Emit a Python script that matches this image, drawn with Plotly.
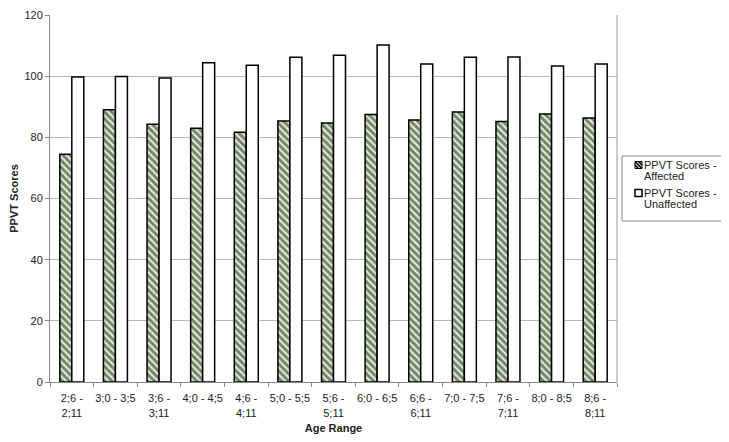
import plotly.graph_objects as go

age_ranges = ["2;6 -<br>2;11", "3;0 - 3;5", "3;6 -<br>3;11", "4;0 - 4;5", "4;6 -<br>4;11",
              "5;0 - 5;5", "5;6 -<br>5;11", "6;0 - 6;5", "6;6 -<br>6;11", "7;0 - 7;5",
              "7;6 -<br>7;11", "8;0 - 8;5", "8;6 -<br>8;11"]
affected = [74.5, 89.0, 84.3, 83.0, 81.7, 85.3, 84.7, 87.5, 85.7, 88.3, 85.2, 87.6, 86.3]
unaffected = [99.7, 99.9, 99.4, 104.4, 103.6, 106.2, 106.8, 110.2, 104.0, 106.2, 106.3, 103.3, 104.0]
legend_lines = [["PPVT Scores -", "Affected"], ["PPVT Scores -", "Unaffected"]]

green = "#e4f2d6"

fig = go.Figure()
fig.add_trace(go.Bar(
    x=age_ranges, y=affected, name="PPVT Scores - Affected",
    marker=dict(color=green, line=dict(color="black", width=1.5),
                pattern=dict(shape="\\", fgcolor="#0a160a", bgcolor=green, size=5, solidity=0.6)),
))
fig.add_trace(go.Bar(
    x=age_ranges, y=unaffected, name="PPVT Scores - Unaffected",
    marker=dict(color="white", line=dict(color="black", width=1.5)),
))

# the page body has an 8px margin, so the figure is 16px smaller than the window
PAD = 8
FW, FH = 729 - 2 * PAD, 442 - 2 * PAD
# top kept a few px lower than the original so the "120" label is not clipped
L, T, W, H = 42, 7, 567, 367

# helpers: window pixel -> paper coords
def px(x):
    return (x - PAD - L) / W
def py(y):
    return (PAD + T + H - y) / H

# hand-made legend (plotly's own one is too wide for the right margin)
fig.add_shape(type="rect", xref="paper", yref="paper",
              x0=px(622), x1=px(726), y0=py(156), y1=py(221),
              line=dict(color="#888", width=1), fillcolor="white")
fig.add_shape(type="rect", xref="paper", yref="paper",
              x0=px(635), x1=px(642), y0=py(161.5), y1=py(168.5),
              line=dict(color="black", width=1), fillcolor=green)
fig.add_shape(type="path", xref="paper", yref="paper",
              path=("M %f,%f L %f,%f M %f,%f L %f,%f M %f,%f L %f,%f" % (
                  px(635), py(161.5), px(642), py(168.5),
                  px(635), py(165), px(638.5), py(168.5),
                  px(638.5), py(161.5), px(642), py(165))),
              line=dict(color="black", width=1.5))
fig.add_shape(type="rect", xref="paper", yref="paper",
              x0=px(635), x1=px(642), y0=py(189.5), y1=py(196.5),
              line=dict(color="black", width=1.5), fillcolor="white")
for lines, ys in zip(legend_lines, [[165, 176], [193, 204]]):
    for text, yc in zip(lines, ys):
        fig.add_annotation(xref="paper", yref="paper", x=px(643), y=py(yc),
                           xanchor="left", yanchor="middle", showarrow=False,
                           borderpad=0, text=text, font=dict(size=11, color="#222"))

fig.update_layout(
    width=FW, height=FH,
    margin=dict(l=L, r=FW - L - W, t=T, b=FH - T - H),
    paper_bgcolor="white", plot_bgcolor="white",
    font=dict(family="Liberation Sans, Arial", size=11, color="#222"),
    barmode="group", bargap=0.45, bargroupgap=0,
    showlegend=False,
    xaxis=dict(title=dict(text="<b>Age Range</b>", font=dict(size=11), standoff=8),
               automargin=False,
               showline=True, linecolor="#888", mirror=False,
               ticks="outside", tickson="boundaries", ticklen=4, tickcolor="#888",
               ticklabelstandoff=6, tickangle=0),
    yaxis=dict(title=dict(text="<b>PPVT Scores</b>", font=dict(size=11), standoff=3),
               automargin=False, ticklabeloverflow="allow",
               range=[0, 120], dtick=20, showgrid=True, gridcolor="#b8b8b8",
               showline=True, linecolor="#888", ticks="outside", ticklen=4,
               tickcolor="#888", zeroline=False),
)
fig.add_shape(type="line", xref="paper", yref="paper", x0=1, x1=1, y0=0, y1=1,
              line=dict(color="#999", width=1))

fig.write_html("out.html")
